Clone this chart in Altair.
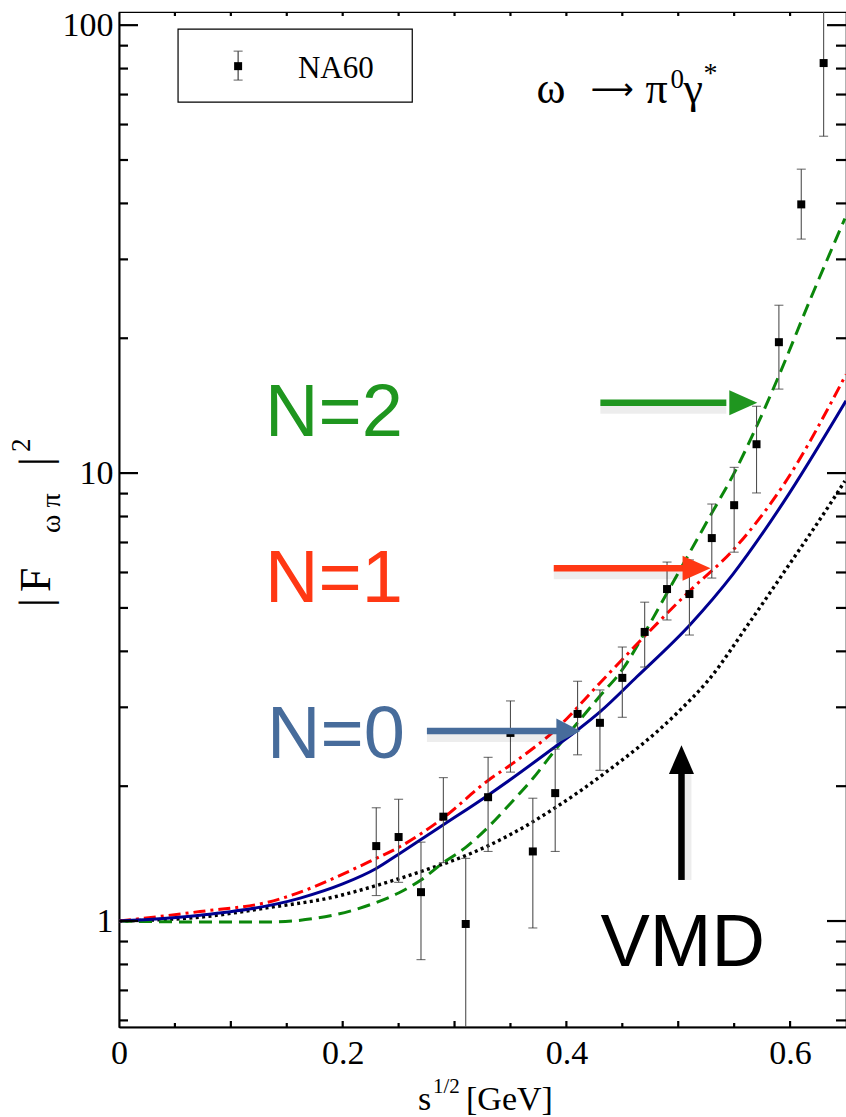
import altair as alt
import pandas as pd

# ---------------- data ----------------
na60_x = [0.23, 0.25, 0.27, 0.29, 0.31, 0.33, 0.35, 0.37, 0.39, 0.41, 0.43,
          0.45, 0.47, 0.49, 0.51, 0.53, 0.55, 0.57, 0.59, 0.61, 0.63]
na60_y = [1.47, 1.54, 1.16, 1.71, 0.985, 1.89, 2.63, 1.43, 1.93, 2.90, 2.77,
          3.49, 4.42, 5.51, 5.37, 7.16, 8.48, 11.6, 19.6, 39.8, 82.3]
na60_lo = [1.14, 1.22, 0.82, 1.35, 0.50, 1.43, 2.15, 0.965, 1.43, 2.35, 2.17,
           2.85, 3.69, 4.70, 4.35, 5.83, 6.66, 9.03, 15.4, 33.3, 56.5]
na60_hi = [1.79, 1.87, 1.50, 2.09, 1.38, 2.32, 3.10, 1.88, 2.42, 3.43, 3.28,
           4.09, 5.15, 6.33, 6.40, 8.53, 10.3, 14.1, 23.7, 47.7, 120.0]

vmd_x = [0, 0.0725, 0.132, 0.191, 0.23, 0.27, 0.31, 0.35, 0.39, 0.43, 0.50,
         0.527, 0.564, 0.594, 0.638, 0.649]
vmd_y = [1.0, 1.02, 1.07, 1.13, 1.20, 1.29, 1.40, 1.56, 1.79, 2.10, 2.93,
         3.45, 4.65, 5.98, 8.7, 9.6]

n0_x = [0, 0.0725, 0.162, 0.2, 0.23, 0.25, 0.27, 0.29, 0.33, 0.35, 0.39, 0.41,
        0.43, 0.463, 0.511, 0.549, 0.594, 0.65]
n0_y = [1.0, 1.03, 1.125, 1.21, 1.31, 1.41, 1.52, 1.64, 1.91, 2.07, 2.45, 2.67,
        2.93, 3.51, 4.60, 5.95, 8.6, 14.5]

n1_x = [0, 0.0725, 0.132, 0.23, 0.25, 0.29, 0.33, 0.35, 0.39, 0.43, 0.471,
        0.511, 0.549, 0.594, 0.65]
n1_y = [1.0, 1.05, 1.10, 1.38, 1.46, 1.70, 2.06, 2.23, 2.67, 3.40, 4.35,
        5.48, 6.73, 9.4, 16.6]

n2_x = [0, 0.0725, 0.132, 0.191, 0.23, 0.25, 0.27, 0.29, 0.31, 0.33, 0.35,
        0.37, 0.39, 0.41, 0.43, 0.45, 0.47, 0.49, 0.51, 0.53, 0.55, 0.57,
        0.59, 0.618, 0.649]
n2_y = [1.0, 0.995, 0.995, 1.03, 1.10, 1.155, 1.235, 1.35, 1.46, 1.62, 1.83,
        2.08, 2.41, 2.77, 3.18, 3.64, 4.40, 5.40, 6.63, 8.14, 10.0, 12.7,
        16.5, 24.4, 37.0]

y_tick_labels = [1, 10, 100]
y_minor = [0.6, 0.7, 0.8, 0.9, 2, 3, 4, 5, 6, 7, 8, 9, 20, 30, 40, 50, 60, 70, 80, 90]
x_tick_labels = [0, 0.2, 0.4, 0.6]
x_major = [0.1, 0.2, 0.3, 0.4, 0.5, 0.6]
x_minor = [0.05, 0.15, 0.25, 0.35, 0.45, 0.55]

# ---------------- layout ----------------
W, H = 727, 1015
SERIF = "Liberation Serif"
SANS = "Liberation Sans"
GREEN, RED, BLUE, NAVY = "#1f961f", "#ff3814", "#476c9b", "#000090"

xs = alt.Scale(domain=[0, 0.65], nice=False, zero=False)
ys = alt.Scale(type="log", domain=[0.58, 107], nice=False)

xaxis = alt.Axis(values=x_tick_labels, format="~g", labelFont=SERIF, labelFontSize=34,
                 labelColor="black", labelPadding=9, ticks=False, tickSize=0,
                 domainColor="black", domainWidth=2, grid=False, title=None,
                 labelFlush=False, labelOverlap=False)
yaxis = alt.Axis(values=y_tick_labels, format="d", labelFont=SERIF, labelFontSize=34,
                 labelColor="black", labelPadding=6, ticks=False, tickSize=0,
                 domainColor="black", domainWidth=2, grid=False, title=None,
                 labelOverlap=False, labelFlush=False)

def X(f="x", **kw):
    return alt.X(f, type="quantitative", scale=xs, axis=xaxis, **kw)

def Y(f="y", **kw):
    return alt.Y(f, type="quantitative", scale=ys, axis=yaxis, **kw)

def curve(xv, yv, color, dash, width=3.0):
    df = pd.DataFrame({"x": xv, "y": yv})
    kw = dict(color=color, strokeWidth=width, interpolate="monotone", clip=True)
    if dash:
        kw["strokeDash"] = dash
    return alt.Chart(df).mark_line(**kw).encode(x=X(), y=Y())

vmd = curve(vmd_x, vmd_y, "black", [3, 3.4], 3.4)
n2 = curve(n2_x, n2_y, "#0b870b", [13, 7])
n1 = curve(n1_x, n1_y, "#ff0000", [12, 5, 3, 5])
n0 = curve(n0_x, n0_y, NAVY, None, 3.0)

# NA60 points
pts_df = pd.DataFrame({"x": na60_x, "y": na60_y, "lo": na60_lo, "hi": na60_hi})
err = alt.Chart(pts_df).mark_rule(color="#505050", strokeWidth=1.1, clip=True).encode(
    x=X(), y=Y("lo"), y2="hi")
cap_lo = alt.Chart(pts_df).mark_tick(color="#303030", orient="horizontal", size=9,
                                     thickness=1.1, clip=True).encode(x=X(), y=Y("lo"))
cap_hi = alt.Chart(pts_df).mark_tick(color="#303030", orient="horizontal", size=9,
                                     thickness=1.1, clip=True).encode(x=X(), y=Y("hi"))
sq = alt.Chart(pts_df).mark_square(color="black", size=64, opacity=1, clip=True).encode(
    x=X(), y=Y())

# inward tick marks (ticks on all four sides)
ymaj_df = pd.DataFrame({"y": y_tick_labels})
ymin_df = pd.DataFrame({"y": y_minor})
tick_style = dict(color="black", strokeWidth=2.2)
lt_major = alt.Chart(ymaj_df).mark_rule(**tick_style).encode(
    y=Y(), x=alt.value(0), x2=alt.value(19))
lt_minor = alt.Chart(ymin_df).mark_rule(**tick_style).encode(
    y=Y(), x=alt.value(0), x2=alt.value(9))
rt_major = alt.Chart(ymaj_df).mark_rule(**tick_style).encode(
    y=Y(), x=alt.value(W), x2=alt.value(W - 19))
rt_minor = alt.Chart(ymin_df).mark_rule(**tick_style).encode(
    y=Y(), x=alt.value(W), x2=alt.value(W - 10))
xmaj_df = pd.DataFrame({"x": x_major})
xmin_df = pd.DataFrame({"x": x_minor})
xall_df = pd.DataFrame({"x": x_minor + x_major})
bt_major = alt.Chart(xmaj_df).mark_rule(**tick_style).encode(
    x=X(), y=alt.value(H), y2=alt.value(H - 6))
bt_minor = alt.Chart(xmin_df).mark_rule(**tick_style).encode(
    x=X(), y=alt.value(H), y2=alt.value(H - 4))
tp = alt.Chart(xall_df).mark_rule(**tick_style).encode(
    x=X(), y=alt.value(0), y2=alt.value(4))

# legend box
leg_box = alt.Chart(pd.DataFrame({"x": [0.0528], "x2": [0.2622], "y": [98.0], "y2": [67.3]})).mark_rect(
    fillOpacity=0, stroke="black", strokeWidth=1.2).encode(x=X(), x2="x2", y=Y(), y2="y2")
leg_pt = pd.DataFrame({"x": [0.1065], "y": [81.0], "lo": [75.4], "hi": [87.5]})
leg_err = alt.Chart(leg_pt).mark_rule(color="#303030", strokeWidth=1.1).encode(x=X(), y=Y("lo"), y2="hi")
leg_cl = alt.Chart(leg_pt).mark_tick(color="#303030", orient="horizontal", size=9, thickness=1.1).encode(x=X(), y=Y("lo"))
leg_ch = alt.Chart(leg_pt).mark_tick(color="#303030", orient="horizontal", size=9, thickness=1.1).encode(x=X(), y=Y("hi"))
leg_sq = alt.Chart(leg_pt).mark_square(color="black", size=64, opacity=1).encode(x=X(), y=Y())
leg_txt = alt.Chart(pd.DataFrame({"x": [0.160], "y": [80.0], "t": ["NA60"]})).mark_text(
    font=SERIF, fontSize=31, align="left", baseline="middle", color="black").encode(
    x=X(), y=Y(), text="t:N")

# process label  omega -> pi0 gamma*
def txt(x, y, t, size, font=SERIF, color="black", align="left", baseline="alphabetic", **kw):
    d = pd.DataFrame({"x": [x], "y": [y], "t": [t]})
    return alt.Chart(d).mark_text(font=font, fontSize=size, align=align, baseline=baseline,
                                  color=color, **kw).encode(x=X(), y=Y(), text="t:N")

proc = [
    txt(0.3732, 66.97, "ω", 44),
    txt(0.4215, 68.5, "⟶", 30, font="DejaVu Sans"),
    txt(0.4707, 66.97, "π", 44),
    txt(0.4931, 72.35, "0", 27),
    txt(0.5047, 66.97, "γ", 44),
    txt(0.5226, 74.5, "*", 28),
]

# model labels
labels = [
    txt(0.1306, 12.09, "N=2", 74, font=SANS, color=GREEN),
    txt(0.1306, 5.15, "N=1", 74, font=SANS, color=RED),
    txt(0.1324, 2.311, "N=0", 74, font=SANS, color=BLUE),
    txt(0.4304, 0.7936, "VMD", 74, font=SANS, color="black"),
]

# arrows
def harrow(x0, xb, xt, y, color, head_len):
    shaft_df = pd.DataFrame({"x": [x0], "x2": [xb], "y": [y]})
    shadow = alt.Chart(shaft_df).mark_rule(color="black", opacity=0.07, strokeWidth=12,
                                           yOffset=5).encode(x=X(), x2="x2", y=Y())
    shaft = alt.Chart(shaft_df).mark_rule(color=color, strokeWidth=6.5, strokeCap="butt").encode(
        x=X(), x2="x2", y=Y())
    r = head_len / 12.5
    head = alt.Chart(pd.DataFrame({"x": [xt], "y": [y]})).mark_point(
        shape=f"M0,0L{-r:.3f},-1L{-r:.3f},1Z", filled=True, size=625, color=color,
        opacity=1, strokeWidth=0).encode(x=X(), y=Y())
    return [shadow, shaft, head]

arrows = []
arrows += harrow(0.4304, 0.5430, 0.5707, 14.35, GREEN, 28)
arrows += harrow(0.3887, 0.5050, 0.5289, 6.13, RED, 28)
arrows += harrow(0.2753, 0.3960, 0.4125, 2.655, BLUE, 24)

vdf = pd.DataFrame({"x": [0.5029], "y": [1.235], "y2": [2.16]})
v_shadow = alt.Chart(vdf).mark_rule(color="black", opacity=0.07, strokeWidth=12, xOffset=4).encode(
    x=X(), y=Y(), y2="y2")
v_shaft = alt.Chart(vdf).mark_rule(color="black", strokeWidth=6.5, strokeCap="butt").encode(
    x=X(), y=Y(), y2="y2")
v_head = alt.Chart(pd.DataFrame({"x": [0.5029], "y": [2.47]})).mark_point(
    shape="M0,0L-1,2.3L1,2.3Z", filled=True, size=625, color="black", opacity=1,
    strokeWidth=0).encode(x=X(), y=Y())
arrows += [v_shadow, v_shaft, v_head]

# axis titles (outside the plot area)
def ptxt(px, py, t, size, angle=0, align="left", baseline="alphabetic"):
    d = pd.DataFrame({"t": [t]})
    kw = dict(font=SERIF, fontSize=size, align=align, baseline=baseline, color="black")
    if angle:
        kw["angle"] = angle
    return alt.Chart(d).mark_text(**kw).encode(
        x=alt.value(px - 119), y=alt.value(py - 12), text="t:N")

titles = [
    ptxt(418, 1110, "s", 34),
    ptxt(433, 1093, "1/2", 21),
    ptxt(466, 1110, "[GeV]", 34),
    ptxt(50, 607, "|", 44, angle=270),
    ptxt(50, 592, "F", 44, angle=270),
    ptxt(60, 533, "ω π", 28, angle=270),
    ptxt(50, 466, "|", 44, angle=270),
    ptxt(30, 452, "2", 27, angle=270),
]

layers = ([vmd, n2, n1, n0, err, cap_lo, cap_hi, sq,
           lt_major, lt_minor, rt_major, rt_minor, bt_major, bt_minor, tp,
           leg_box, leg_err, leg_cl, leg_ch, leg_sq, leg_txt]
          + proc + labels + arrows + titles)

chart = alt.layer(*layers).properties(
    width=W, height=H,
    padding={"left": 119, "top": 12, "right": 0, "bottom": 90},
    autosize=alt.AutoSizeParams(type="none"),
    background="white",
).configure_view(stroke="black", strokeWidth=1.2)

chart.save("out.html", embed_options={"renderer": "svg", "actions": False})
